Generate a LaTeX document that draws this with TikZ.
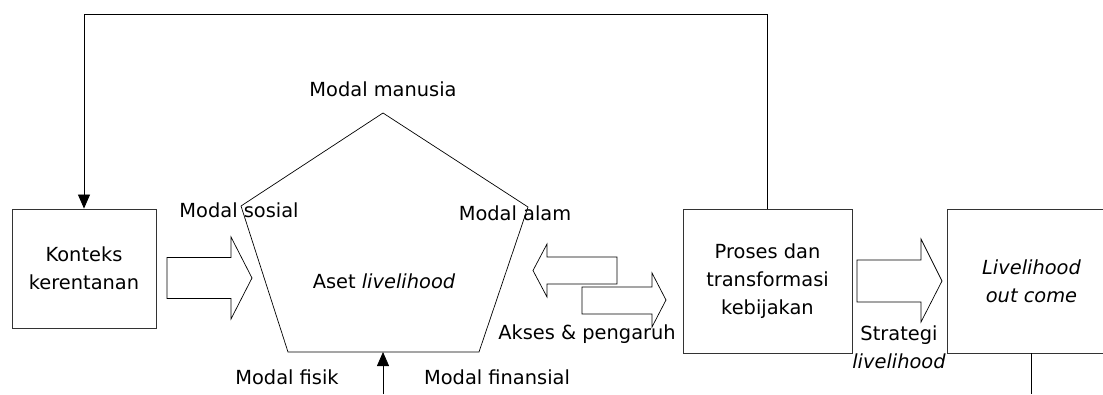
\documentclass[tikz,border=0pt]{standalone}
\usepackage{fontspec}
\setmainfont{DejaVu Sans}
\usetikzlibrary{arrows,arrows.meta,shapes,positioning}

\tikzset{
  box/.style={draw=black!80, line width=0.9pt, align=center, inner sep=0pt},
  lbl/.style={inner sep=0pt, align=center},
  blk/.style={draw, line width=0.7pt, fill=white},
  fb/.style={line width=0.8pt, -{Triangle[length=14pt,width=12pt]}},
}

\begin{document}
\begin{tikzpicture}[x=1pt, y=-1pt, font=\fontsize{19.4}{28}\selectfont]
  \useasboundingbox (0,0) rectangle (1103,394);

  % Boxes
  \node[box, minimum width=144pt, minimum height=119pt] (konteks) at (84,268.5)
    {Konteks\\kerentanan};
  \node[box, minimum width=169pt, minimum height=144pt] (proses) at (767.5,281)
    {Proses dan\\transformasi\\kebijakan};
  \node[box, minimum width=169pt, minimum height=144pt] (outcome) at (1031.5,281)
    {\itshape Livelihood\\\itshape out come};

  % Pentagon (aset)
  \coordinate (p1) at (383,113);
  \coordinate (p2) at (528,207);
  \coordinate (p3) at (479,352);
  \coordinate (p4) at (288,352);
  \coordinate (p5) at (241,206);
  \draw[line width=0.7pt] (p1) -- (p2) -- (p3) -- (p4) -- (p5) -- cycle;
  \coordinate (pb) at (383,352);

  % labels of the pentagon
  \node[lbl] (manusia) at (383,89) {Modal manusia};
  \node[lbl] (sosial) at (239,210) {Modal sosial};
  \node[lbl] (alam) at (515,213) {Modal alam};
  \node[lbl] (aset) at (384,281) {Aset \textit{livelihood}};
  \node[lbl] (fisik) at (287,377) {Modal fisik};
  \node[lbl] (finansial) at (497,377) {Modal finansial};
  \node[lbl] (akses) at (587,334) {Akses \& pengaruh};
  \node[lbl] (strategi) at (899,347) {Strategi\\\textit{livelihood}};

  % block arrows
  \draw[blk] (167,257.5) -- (231,257.5) -- (231,237) -- (252,278)
    -- (231,319) -- (231,298.5) -- (167,298.5) -- cycle;
  \draw[blk] (617,257) -- (547,257) -- (547,244) -- (533,270.5)
    -- (547,297) -- (547,284) -- (617,284) -- cycle;
  \draw[blk] (582,287) -- (652,287) -- (652,273) -- (666,300)
    -- (652,327) -- (652,314) -- (582,314) -- cycle;
  \draw[blk] (857,260) -- (921,260) -- (921,239) -- (942,281)
    -- (921,322) -- (921,302) -- (857,302) -- cycle;

  % feedback and other connectors
  \coordinate (top) at (767,14);
  \draw[fb] (proses.north) -- (proses.north |- top) -| (konteks.north);
  \coordinate (base) at (383,394);
  \draw[fb] (base) -- (pb);
  \coordinate (low) at (1031.5,394);
  \draw[line width=0.8pt] (outcome.south) -- (low);
\end{tikzpicture}
\end{document}
